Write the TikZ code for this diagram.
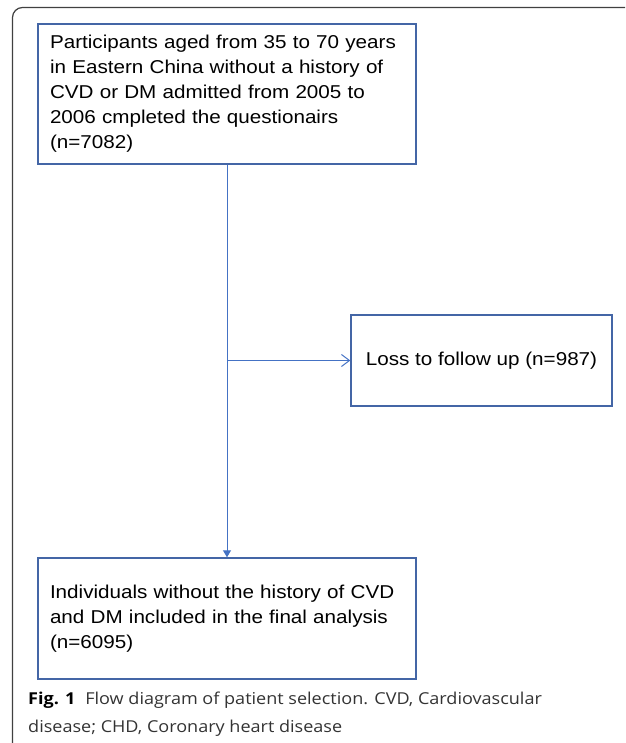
\documentclass[tikz,border=0pt]{standalone}
\usepackage{fontspec}
\setmainfont{Liberation Sans}[FakeStretch=1.11]
\newfontfamily\captionfont{Open Sans}[FakeStretch=1.1]
\usetikzlibrary{arrows.meta,positioning}

\definecolor{boxblue}{RGB}{68,102,166}
\definecolor{lineblue}{RGB}{68,114,196}
\definecolor{framegray}{RGB}{64,64,64}
\definecolor{captiongray}{RGB}{51,51,51}

\begin{document}
\begin{tikzpicture}[x=1pt, y=-1pt,
    flowbox/.style={draw=boxblue, line width=1.4pt, inner xsep=12pt, inner ysep=0pt,
        font=\fontsize{18.6}{25}\selectfont, text width=354pt, align=left},
    lossbox/.style={draw=boxblue, line width=1.4pt, inner xsep=12pt,
        font=\fontsize{18.6}{25}\selectfont, minimum width=261pt, minimum height=91pt},
    flowline/.style={draw=lineblue, line width=1pt},
    captiontext/.style={anchor=base west, inner sep=0pt, text=captiongray,
        font=\captionfont\fontsize{16.4}{20}\selectfont}]
    % 1. Fix the page
    \useasboundingbox (0,0) rectangle (625,743);

    % 2. The frame (top left corner only)
    \draw[framegray, line width=1.2pt, rounded corners=10pt] (12.5,743) |- (625,7.5);

    % 3. The boxes
    \node[flowbox, minimum height=140pt] (participants) at (227,94)
        {Participants aged from 35 to 70 years\\
         in Eastern China without a history of\\
         CVD or DM admitted from 2005 to\\
         2006 cmpleted the questionairs\\
         (n=7082)};
    \node[lossbox] (loss) at (481.5,360.5) {Loss to follow up (n=987)};
    \node[flowbox, minimum height=121pt] (analysis) at (227,618.5)
        {Individuals without the history of CVD\\
         and DM included in the final analysis\\
         (n=6095)};

    % 4. The connectors
    \coordinate (split) at (participants.south |- loss.west); % branch point
    \draw[flowline, -{Triangle[length=7pt,width=8pt]}] (participants.south) -- (analysis.north);
    \draw[flowline, -{Straight Barb[length=8pt,width=12pt]}] (split) -- (loss.west);

    % 5. The caption
    \node[captiontext] (caption1) at (28,704)
        {\textcolor{black}{\bfseries Fig. 1}\hspace{0.6em}Flow diagram of patient selection. CVD, Cardiovascular};
    \node[captiontext] (caption2) at (28,732) {disease; CHD, Coronary heart disease};
\end{tikzpicture}
\end{document}
